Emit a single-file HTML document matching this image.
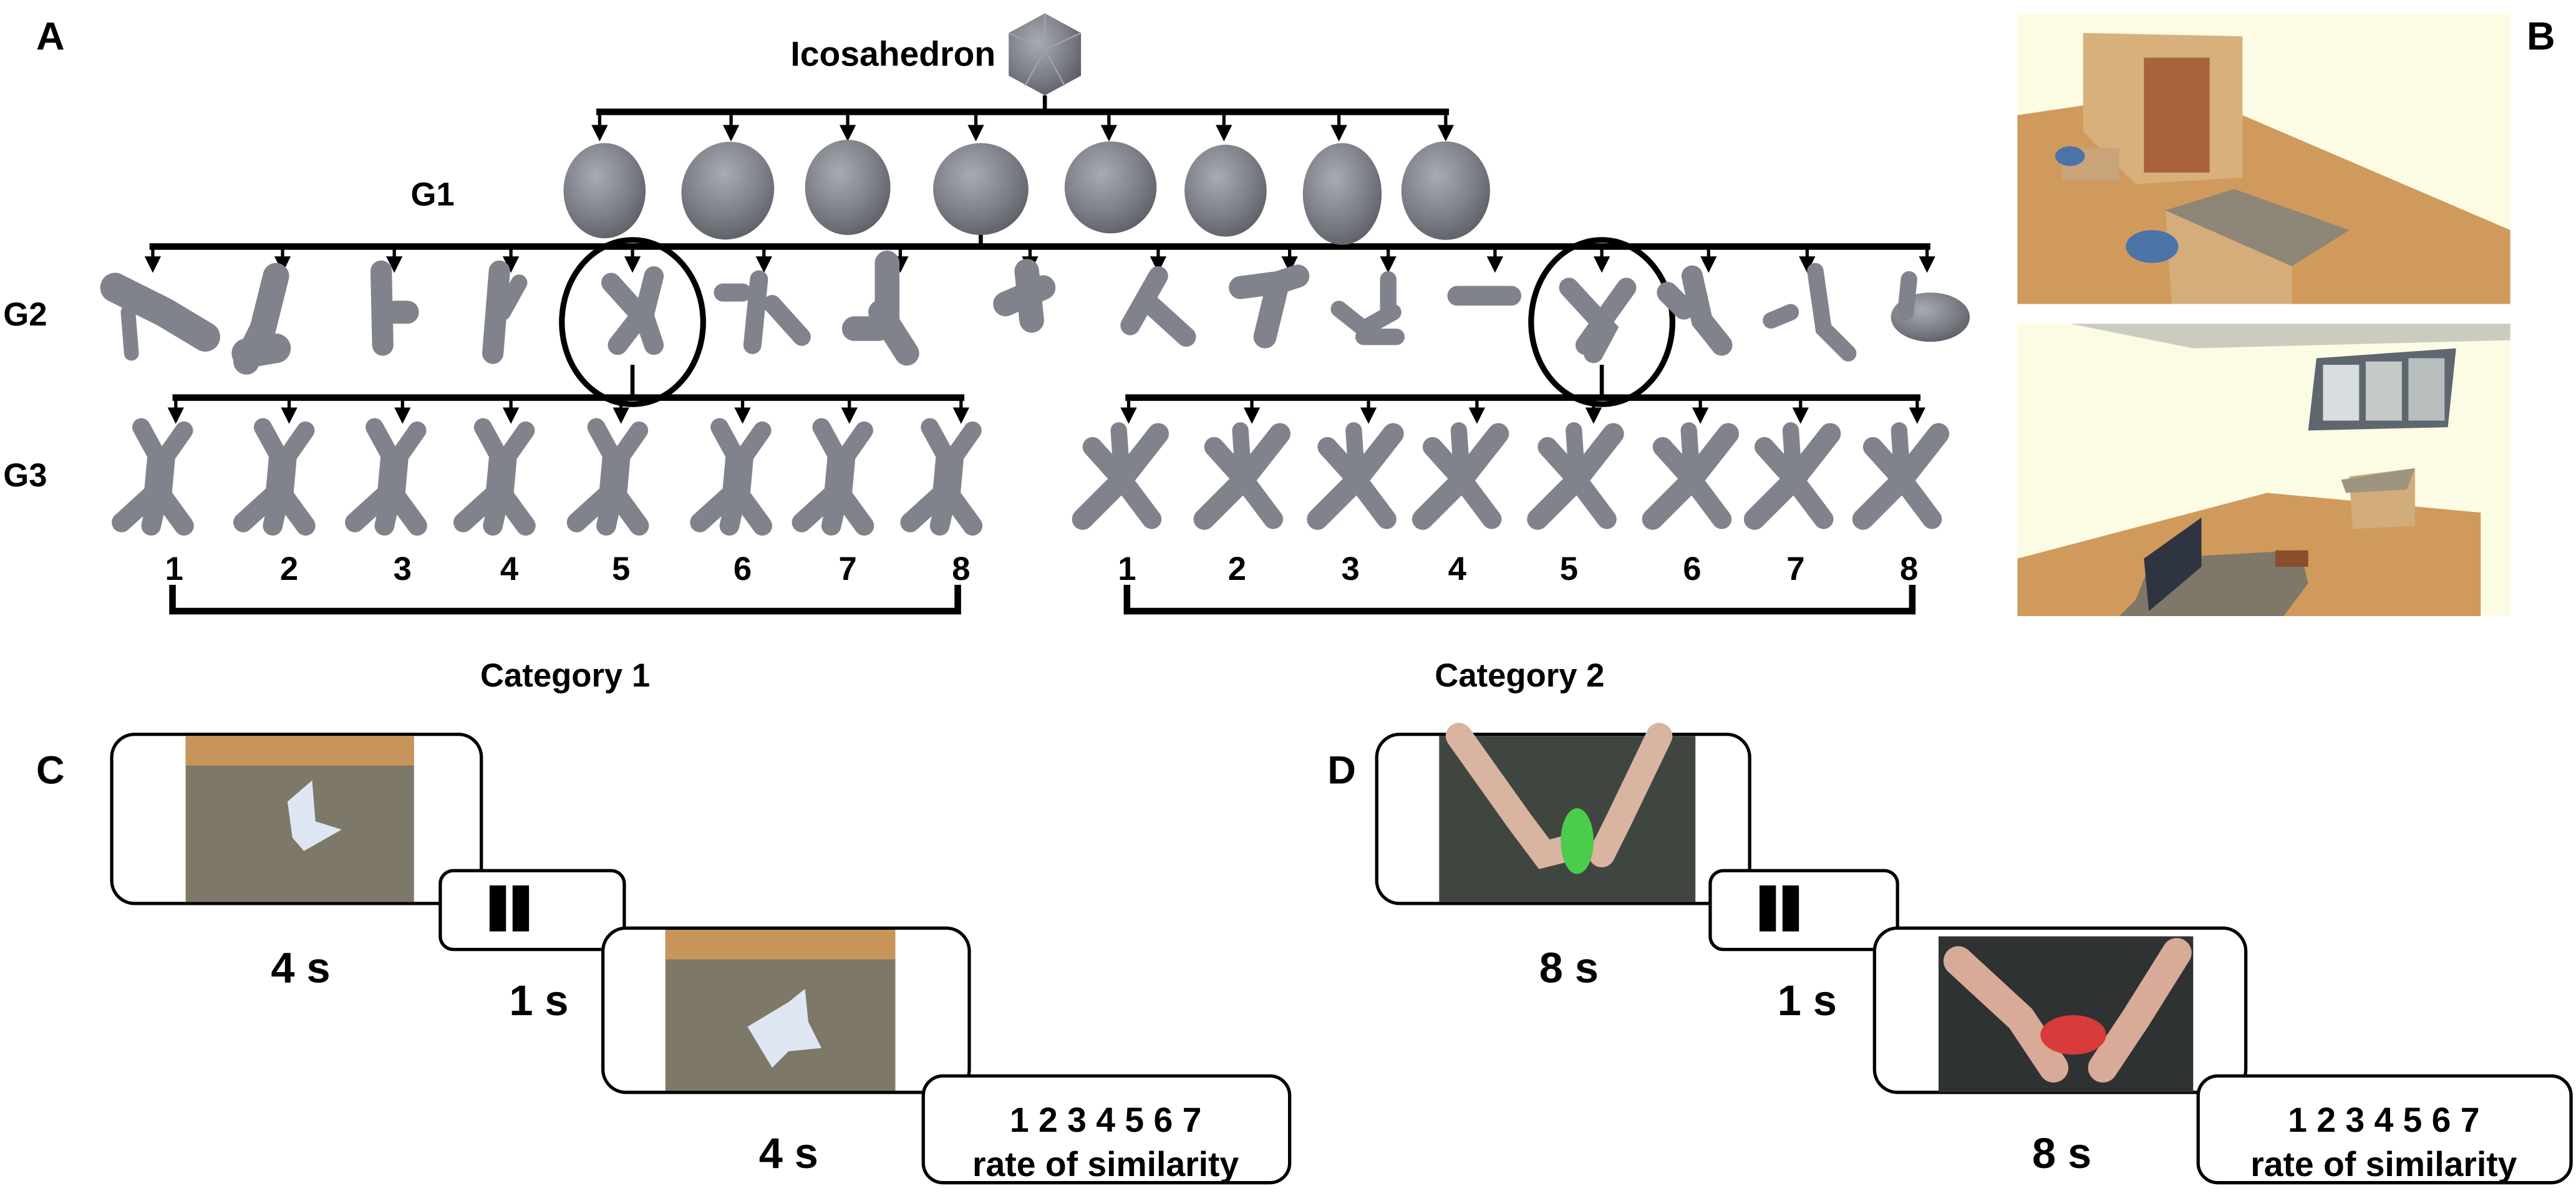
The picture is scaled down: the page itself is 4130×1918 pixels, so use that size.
<!DOCTYPE html>
<html><head><meta charset="utf-8">
<style>
html,body{margin:0;padding:0;background:#fff;}
svg{display:block;}
text{font-family:"Liberation Sans",Arial,sans-serif;font-weight:bold;fill:#000;}
</style></head>
<body>
<svg width="4130" height="1918" viewBox="0 0 1568 728" xmlns="http://www.w3.org/2000/svg">
<defs>
 <radialGradient id="bg" cx="40%" cy="35%" r="70%">
  <stop offset="0" stop-color="#a8abb2"/><stop offset="0.6" stop-color="#7d8088"/><stop offset="1" stop-color="#5c5f66"/>
 </radialGradient>
 <g id="x3" stroke="#80838b" stroke-linecap="round" fill="none">
  <path d="M-12,-30 L0,-8 L14,-28" stroke-width="11"/>
  <path d="M0,-10 L-2,12" stroke-width="17"/>
  <path d="M-2,8 L-24,28 M-2,8 L14,30 M-2,12 L-6,30" stroke-width="12"/>
 </g>
 <g id="x3b" stroke="#80838b" stroke-linecap="round" fill="none">
  <path d="M-24,26 L0,2 L22,-26" stroke-width="13"/>
  <path d="M-18,-18 L0,2 L18,26" stroke-width="12"/>
  <path d="M-2,-28 L0,2" stroke-width="10"/>
 </g>
</defs>

<text x="22" y="30" font-size="24">A</text>
<text x="1538" y="30" font-size="24">B</text>
<text x="22" y="477" font-size="24">C</text>
<text x="808" y="477" font-size="24">D</text>

<text x="606" y="40" font-size="21" text-anchor="end">Icosahedron</text>
<polygon points="636,8 658,20 658,46 636,58 614,46 614,20" fill="url(#bg)"/>
<path d="M636,8 L636,30 M614,20 L636,30 L658,20 M636,30 L624,52 M636,30 L648,52" stroke="#9ea1a8" stroke-width="1" fill="none"/>

<g stroke="#000" fill="none">
 <path d="M636,58 V68" stroke-width="2.5"/>
 <path d="M363,68 H882" stroke-width="4"/>
 <path d="M365,68V78 M445,68V78 M516,68V78 M594,68V78 M675,68V78 M745,68V78 M815,68V78 M880,68V78" stroke-width="2"/>
 <path d="M597,132 V150" stroke-width="2.5"/>
 <path d="M91,150 H1175" stroke-width="4"/>
 <path d="M93,150V158 M172,150V158 M240,150V158 M311,150V158 M385,150V158 M465,150V158 M548,150V158 M627,150V158 M705,150V158 M785,150V158 M845,150V158 M910,150V158 M975,150V158 M1040,150V158 M1100,150V158 M1173,150V158" stroke-width="2"/>
 <ellipse cx="385" cy="196" rx="43" ry="50" stroke-width="3.5"/>
 <ellipse cx="975" cy="196" rx="43" ry="50" stroke-width="3.5"/>
 <path d="M385,222 V242 M975,222 V242" stroke-width="2.5"/>
 <path d="M105,242 H587" stroke-width="4"/>
 <path d="M685,242 H1169" stroke-width="4"/>
 <path d="M107,242V250 M176,242V250 M245,242V250 M311,242V250 M378,242V250 M452,242V250 M517,242V250 M585,242V250" stroke-width="2"/>
 <path d="M687,242V250 M762,242V250 M833,242V250 M899,242V250 M970,242V250 M1035,242V250 M1096,242V250 M1167,242V250" stroke-width="2"/>
 <path d="M105,356 V372 H583 V356" stroke-width="4"/>
 <path d="M686,356 V372 H1164 V356" stroke-width="4"/>
</g>
<g fill="#000">
 <path d="M360,76h10l-5,10z M440,76h10l-5,10z M511,76h10l-5,10z M589,76h10l-5,10z M670,76h10l-5,10z M740,76h10l-5,10z M810,76h10l-5,10z M875,76h10l-5,10z"/>
 <path d="M88,156h10l-5,10z M167,156h10l-5,10z M235,156h10l-5,10z M306,156h10l-5,10z M380,156h10l-5,10z M460,156h10l-5,10z M543,156h10l-5,10z M622,156h10l-5,10z M700,156h10l-5,10z M780,156h10l-5,10z M840,156h10l-5,10z M905,156h10l-5,10z M970,156h10l-5,10z M1035,156h10l-5,10z M1095,156h10l-5,10z M1168,156h10l-5,10z"/>
 <path d="M102,248h10l-5,10z M171,248h10l-5,10z M240,248h10l-5,10z M306,248h10l-5,10z M373,248h10l-5,10z M447,248h10l-5,10z M512,248h10l-5,10z M580,248h10l-5,10z"/>
 <path d="M682,248h10l-5,10z M757,248h10l-5,10z M828,248h10l-5,10z M894,248h10l-5,10z M965,248h10l-5,10z M1030,248h10l-5,10z M1091,248h10l-5,10z M1162,248h10l-5,10z"/>
</g>

<text x="250" y="125" font-size="20">G1</text>
<g fill="url(#bg)">
 <ellipse cx="368" cy="116" rx="25" ry="29"/>
 <ellipse cx="443" cy="116" rx="28" ry="30" transform="rotate(20 443 116)"/>
 <ellipse cx="516" cy="114" rx="26" ry="29"/>
 <ellipse cx="597" cy="115" rx="29" ry="28"/>
 <ellipse cx="676" cy="114" rx="28" ry="28"/>
 <ellipse cx="746" cy="116" rx="25" ry="28"/>
 <ellipse cx="817" cy="118" rx="24" ry="31"/>
 <ellipse cx="880" cy="116" rx="27" ry="30"/>
</g>

<text x="2" y="198" font-size="20">G2</text>
<g stroke="#80838b" stroke-linecap="round" fill="none">
 <path d="M70,175 L100,190 L125,205" stroke-width="18"/><path d="M78,190 L80,215" stroke-width="9"/>
 <path d="M168,168 L160,200 L150,220" stroke-width="16"/><path d="M150,215 L168,212" stroke-width="18"/>
 <path d="M232,165 L233,210" stroke-width="13"/><path d="M240,190 h8" stroke-width="14"/>
 <path d="M304,165 L300,215" stroke-width="13"/><path d="M316,172 L306,190" stroke-width="10"/>
 <path d="M372,172 L390,192 L376,210 M398,168 L392,192 L398,210" stroke-width="12"/>
 <path d="M440,178 H452 M462,170 L458,210 M470,185 L488,205" stroke-width="11"/>
 <path d="M540,160 V195 M520,200 h15 M536,190 L552,215" stroke-width="15"/>
 <path d="M612,185 L635,175 M625,165 L628,195" stroke-width="15"/>
 <path d="M705,168 L688,198 M700,185 L722,205" stroke-width="12"/>
 <path d="M755,175 L778,172 L770,205 M778,172 L790,168" stroke-width="14"/>
 <path d="M815,188 L830,200 L848,190 M845,170 L845,190 M830,205 h20" stroke-width="10"/>
 <path d="M887,180 H920 M955,175 L978,200 L970,215 M990,175 L965,210" stroke-width="12"/>
 <path d="M1030,168 L1036,195 L1048,210 M1025,188 L1015,178" stroke-width="13"/>
 <path d="M1078,195 L1090,190 M1105,165 L1110,200 L1125,215" stroke-width="10"/>
 <ellipse cx="1175" cy="193" rx="24" ry="15" fill="url(#bg)" stroke="none"/><path d="M1162,170 L1160,190" stroke-width="10"/>
</g>

<text x="2" y="296" font-size="20">G3</text>
<use href="#x3" x="98" y="290"/><use href="#x3" x="172" y="290"/><use href="#x3" x="240" y="290"/><use href="#x3" x="306" y="290"/>
<use href="#x3" x="375" y="290"/><use href="#x3" x="450" y="290"/><use href="#x3" x="512" y="290"/><use href="#x3" x="578" y="290"/>
<use href="#x3b" x="683" y="290"/><use href="#x3b" x="757" y="290"/><use href="#x3b" x="826" y="290"/><use href="#x3b" x="890" y="290"/>
<use href="#x3b" x="960" y="290"/><use href="#x3b" x="1030" y="290"/><use href="#x3b" x="1092" y="290"/><use href="#x3b" x="1158" y="290"/>

<g font-size="20" text-anchor="middle">
 <text x="106" y="353">1</text><text x="176" y="353">2</text><text x="245" y="353">3</text><text x="310" y="353">4</text>
 <text x="378" y="353">5</text><text x="452" y="353">6</text><text x="516" y="353">7</text><text x="585" y="353">8</text>
 <text x="686" y="353">1</text><text x="753" y="353">2</text><text x="822" y="353">3</text><text x="887" y="353">4</text>
 <text x="955" y="353">5</text><text x="1030" y="353">6</text><text x="1093" y="353">7</text><text x="1162" y="353">8</text>
 <text x="344" y="418">Category 1</text>
 <text x="925" y="418">Category 2</text>
</g>

<g>
 <rect x="1228" y="8" width="300" height="177" fill="#fcfbe4"/>
 <polygon points="1228,70 1330,55 1528,140 1528,185 1228,185" fill="#d09a5c"/>
 <polygon points="1268,20 1365,22 1365,108 1300,112 1268,80" fill="#d8b07c"/>
 <rect x="1305" y="35" width="40" height="70" fill="#a8633c"/>
 <polygon points="1318,128 1360,115 1430,140 1395,162" fill="#8e8676"/>
 <polygon points="1318,128 1395,162 1395,185 1322,185" fill="#d4ad7a"/>
 <rect x="1255" y="90" width="35" height="20" fill="#c8a478"/>
 <ellipse cx="1310" cy="150" rx="16" ry="10" fill="#4a73a8"/>
 <ellipse cx="1260" cy="95" rx="9" ry="6" fill="#4a73a8"/>
 <rect x="1228" y="197" width="300" height="178" fill="#fcfbe4"/>
 <polygon points="1228,197 1528,197 1528,207 1335,212 1260,197" fill="#cccbc0"/>
 <polygon points="1228,340 1380,300 1510,312 1510,375 1228,375" fill="#d09a5c"/>
 <polygon points="1410,218 1495,212 1490,260 1405,262" fill="#5e6670"/>
 <rect x="1414" y="222" width="22" height="34" fill="#d8dde0"/><rect x="1440" y="220" width="22" height="36" fill="#c4cac8"/><rect x="1466" y="218" width="22" height="38" fill="#b8bdbe"/>
 <polygon points="1430,290 1470,285 1470,320 1432,322" fill="#d2ac7a"/>
 <polygon points="1425,292 1470,285 1465,298 1428,300" fill="#9e9482"/>
 <polygon points="1300,365 1310,340 1400,335 1405,355 1390,375 1290,375" fill="#7f7868"/>
 <polygon points="1305,340 1340,315 1340,345 1308,372" fill="#2e3440"/>
 <rect x="1385" y="335" width="20" height="10" fill="#8a4e2c"/>
</g>

<g stroke="#000" stroke-width="2" fill="#fff">
 <rect x="68" y="447" width="225" height="103" rx="14"/>
 <rect x="268" y="530" width="112" height="48" rx="8"/>
 <rect x="367" y="565" width="223" height="100" rx="14"/>
 <rect x="562" y="655" width="223" height="65" rx="12"/>
 <rect x="838" y="447" width="227" height="103" rx="14"/>
 <rect x="1041" y="530" width="114" height="48" rx="8"/>
 <rect x="1141" y="565" width="226" height="100" rx="14"/>
 <rect x="1338" y="655" width="227" height="65" rx="12"/>
</g>
<rect x="113" y="448" width="139" height="101" fill="#7e7869"/>
<rect x="113" y="448" width="139" height="18" fill="#c7955a"/>
<path d="M175,488 L190,475 L192,500 L208,505 L185,518 L178,510 Z" fill="#dde6f2"/>
<rect x="405" y="566" width="140" height="98" fill="#7e7869"/>
<rect x="405" y="566" width="140" height="18" fill="#c7955a"/>
<path d="M455,625 L480,610 L490,602 L492,622 L500,638 L480,640 L470,650 Z" fill="#dde6f2"/>
<rect x="298" y="539" width="10" height="28" fill="#000"/><rect x="312" y="539" width="10" height="28" fill="#000"/>
<rect x="1071" y="539" width="10" height="28" fill="#000"/><rect x="1085" y="539" width="10" height="28" fill="#000"/>

<rect x="876" y="448" width="156" height="101" fill="#3f4640"/>
<path d="M888,448 L925,500 L940,520 L960,515 M1010,448 L985,500 L975,520" stroke="#d9b4a0" stroke-width="16" fill="none" stroke-linecap="round"/>
<ellipse cx="960" cy="512" rx="10" ry="20" fill="#4ccc4c"/>
<rect x="1180" y="570" width="155" height="95" fill="#2f3232"/>
<path d="M1192,585 L1230,620 L1250,650 M1325,580 L1300,620 L1280,650" stroke="#d8aa98" stroke-width="18" fill="none" stroke-linecap="round"/>
<ellipse cx="1262" cy="630" rx="20" ry="12" fill="#d93a3a"/>

<g text-anchor="middle">
 <text x="183" y="598" font-size="26">4 s</text>
 <text x="328" y="618" font-size="26">1 s</text>
 <text x="480" y="711" font-size="26">4 s</text>
 <text x="673" y="689" font-size="21">1 2 3 4 5 6 7</text>
 <text x="673" y="716" font-size="21">rate of similarity</text>
 <text x="955" y="598" font-size="26">8 s</text>
 <text x="1100" y="618" font-size="26">1 s</text>
 <text x="1255" y="711" font-size="26">8 s</text>
 <text x="1451" y="689" font-size="21">1 2 3 4 5 6 7</text>
 <text x="1451" y="716" font-size="21">rate of similarity</text>
</g>
</svg>
</body></html>
